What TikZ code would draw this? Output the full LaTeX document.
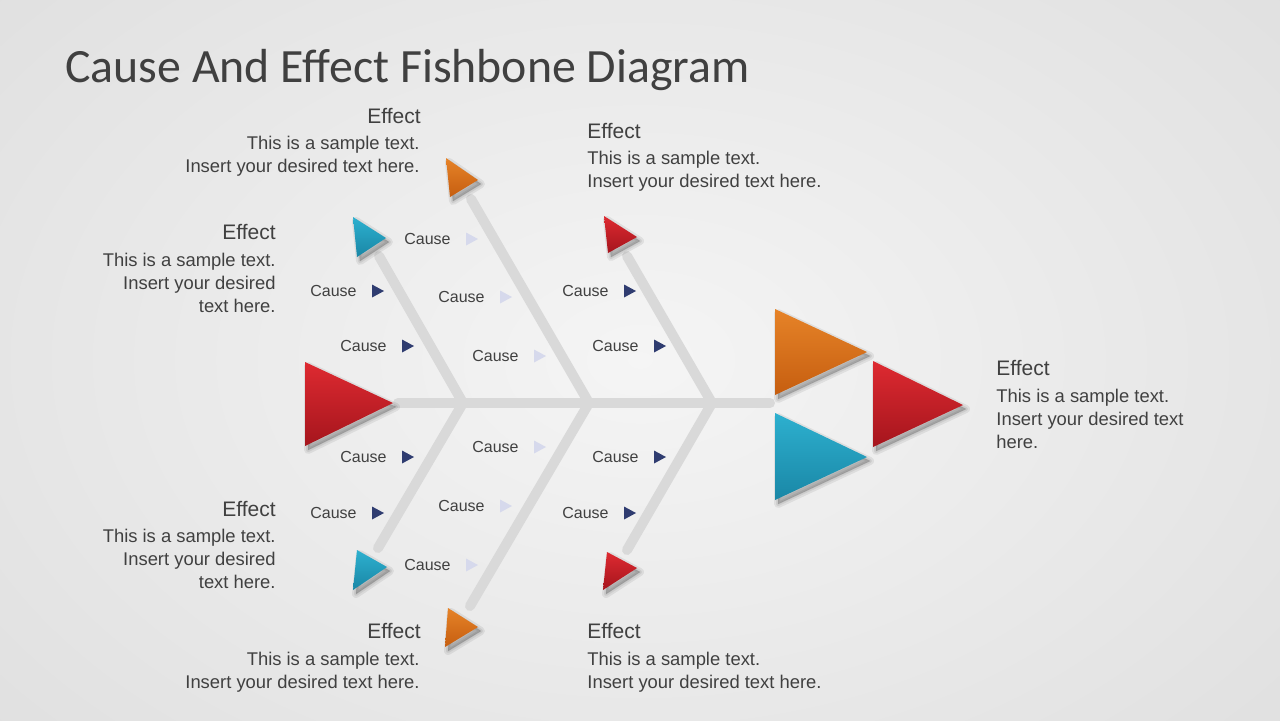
\documentclass[tikz,border=0pt]{standalone}
\usepackage{fontspec}
\setmainfont{Liberation Sans}
\newfontfamily\titlefont{Carlito}
\definecolor{txt}{HTML}{404040}
\definecolor{bone}{HTML}{D9D9D9}
\definecolor{navy}{HTML}{2F3C70}
\definecolor{faint}{HTML}{D6D9EC}
\definecolor{orT}{HTML}{E68328}
\definecolor{orB}{HTML}{C65E10}
\definecolor{rdT}{HTML}{DE2A31}
\definecolor{rdB}{HTML}{A5151D}
\definecolor{tlT}{HTML}{2DB0CF}
\definecolor{tlB}{HTML}{1A87A6}
\newcommand\fishtri[5]{%
  \begin{scope}[shift={(3,4)}]
    \path[softshade,line width=4pt] #1 -- #2 -- #3 -- cycle;
    \path[softshade,line width=2pt] #1 -- #2 -- #3 -- cycle;
    \path[softshade,line width=0.5pt] #1 -- #2 -- #3 -- cycle;
  \end{scope}
  \path[top color=#4, bottom color=#5] #1 -- #2 -- #3 -- cycle;}
\newcommand\causeat[4]{%
  \node[causetxt] (#1) at (#2,#3) {Cause};
  \fill[#4] ([xshift=7.5pt]#1.east) ++(0,6.5) -- ++(12,-6.5) -- ++(-12,-6.5) -- cycle;}
\begin{document}
\begin{tikzpicture}[x=0.5pt,y=-0.5pt,
  softshade/.style={fill=black,draw=black,fill opacity=0.07,draw opacity=0.07,line join=round},
  causetxt/.style={anchor=east,inner sep=0pt,text=txt,font=\fontsize{8}{9.6}\selectfont},
  efftxt/.style={inner sep=0pt,text=txt,font=\fontsize{10.5}{12.6}\selectfont},
  bodytxt/.style={inner sep=0pt,text=txt,font=\fontsize{9.2}{11.4}\selectfont},
  bonestyle/.style={draw=bone,line width=5pt,line cap=round}]
\useasboundingbox (0,0) rectangle (1280,720);
\shade[inner color=white!96!black,outer color=white!88!black] (-200,-200) rectangle (1480,920);
% title
\node[anchor=base west,inner sep=0pt,text=txt,font=\titlefont\fontsize{23.9}{28}\selectfont] (title) at (65,82) {Cause And Effect Fishbone Diagram};
% skeleton coordinates
\coordinate (s0) at (398,403);
\coordinate (s1) at (770,403);
\coordinate (j1) at (463,403);
\coordinate (j2) at (589,403);
\coordinate (j3) at (712,403);
\coordinate (u1) at (379,256);
\coordinate (u2) at (471,199);
\coordinate (u3) at (627,256);
\coordinate (l1) at (378,548);
\coordinate (l2) at (470,606);
\coordinate (l3) at (627,550);
\draw[bonestyle] (s0) -- (s1);
\draw[bonestyle] (u1) -- (j1) -- (l1);
\draw[bonestyle] (u2) -- (j2) -- (l2);
\draw[bonestyle] (u3) -- (j3) -- (l3);
% big triangles
\fishtri{(305,362)}{(305,446)}{(393,403)}{rdT}{rdB}
\fishtri{(775,309)}{(775,395)}{(867,352)}{orT}{orB}
\fishtri{(775,413)}{(775,500)}{(867,457)}{tlT}{tlB}
\fishtri{(873,361)}{(873,447)}{(963,405)}{rdT}{rdB}
% small triangles
\fishtri{(353,217)}{(357,257)}{(386,238)}{tlT}{tlB}
\fishtri{(446,158)}{(450,197)}{(478,180)}{orT}{orB}
\fishtri{(604,216)}{(608,253)}{(637,237)}{rdT}{rdB}
\fishtri{(357,550)}{(353,590)}{(387,567)}{tlT}{tlB}
\fishtri{(448,608)}{(445,647)}{(478,627)}{orT}{orB}
\fishtri{(607,552)}{(603,590)}{(637,568)}{rdT}{rdB}
% causes
\causeat{c1}{451}{239}{faint}
\causeat{c2}{357}{291}{navy}
\causeat{c3}{485}{297}{faint}
\causeat{c4}{609}{291}{navy}
\causeat{c5}{387}{346}{navy}
\causeat{c6}{519}{356}{faint}
\causeat{c7}{639}{346}{navy}
\causeat{c8}{387}{457}{navy}
\causeat{c9}{519}{447}{faint}
\causeat{c10}{639}{457}{navy}
\causeat{c11}{357}{513}{navy}
\causeat{c12}{485}{506}{faint}
\causeat{c13}{609}{513}{navy}
\causeat{c14}{451}{565}{faint}
% effect texts (base anchor = baseline of last line)
\node[efftxt,anchor=base east] (e1h) at (421,123) {Effect};
\node[bodytxt,anchor=base east,align=right] (e1b) at (420,172) {This is a sample text.\\Insert your desired text here.};
\node[efftxt,anchor=base west] (e2h) at (587,138) {Effect};
\node[bodytxt,anchor=base west,align=left] (e2b) at (587,187) {This is a sample text.\\Insert your desired text here.};
\node[efftxt,anchor=base east] (e3h) at (276,239) {Effect};
\node[bodytxt,anchor=base east,align=right] (e3b) at (276,312) {This is a sample text.\\Insert your desired\\text here.};
\node[efftxt,anchor=base east] (e4h) at (276,516) {Effect};
\node[bodytxt,anchor=base east,align=right] (e4b) at (276,588) {This is a sample text.\\Insert your desired\\text here.};
\node[efftxt,anchor=base east] (e5h) at (421,638) {Effect};
\node[bodytxt,anchor=base east,align=right] (e5b) at (420,688) {This is a sample text.\\Insert your desired text here.};
\node[efftxt,anchor=base west] (e6h) at (587,638) {Effect};
\node[bodytxt,anchor=base west,align=left] (e6b) at (587,688) {This is a sample text.\\Insert your desired text here.};
\node[efftxt,anchor=base west] (e7h) at (996,375) {Effect};
\node[bodytxt,anchor=base west,align=left] (e7b) at (996,448) {This is a sample text.\\Insert your desired text\\here.};
\end{tikzpicture}
\end{document}
